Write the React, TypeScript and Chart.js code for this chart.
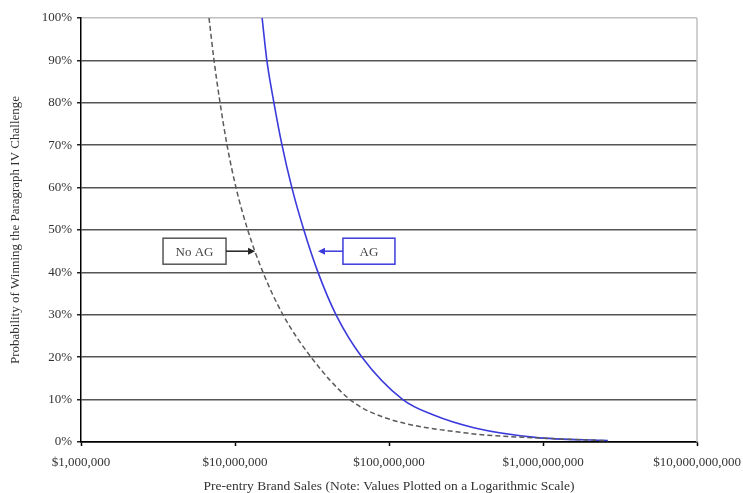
import React, { useEffect, useRef } from 'react';
import { Chart, registerables } from 'chart.js';

Chart.register(...registerables);

// ---- data ----
const xTickValues = [1e6, 1e7, 1e8, 1e9, 1e10];

const agSales = [1.5e7, 1.61e7, 1.79e7, 2.02e7, 2.34e7, 2.8e7, 3.46e7, 4.53e7, 6.68e7, 1.23e8, 1.93e8, 3.61e8, 8.87e8, 2.64e9];
const agProb = [100, 90, 80, 70, 60, 50, 40, 30, 20, 10, 6.4, 3.3, 1.1, 0.35];

const noAgSales = [6.78e6, 7.31e6, 8.0e6, 8.88e6, 1.015e7, 1.21e7, 1.52e7, 2.05e7, 3.12e7, 5.58e7, 9.15e7, 3.21e8, 1.0e9, 2.64e9];
const noAgProb = [100, 90, 80, 70, 60, 50, 40, 30, 20, 10, 5.9, 2.1, 0.9, 0.3];

const annLabels = ['No AG', 'AG'];
const annBoxSales = [5.46e6, 7.41e7];
const annTipSales = [1.35e7, 3.46e7];
const annProb = [45, 45];
const annBoxWidths = [63, 52];
const annColors = ['#222222', '#3b3bdc'];

const FONT = "'Liberation Serif', 'Times New Roman', serif";

const annotationPlugin = {
  id: 'annotationsAndBorder',
  afterDatasetsDraw(chart: any) {
    const { ctx, chartArea, scales } = chart;
    const x = scales.x;
    const y = scales.y;
    ctx.save();
    // right border of plot
    ctx.strokeStyle = '#c0c0c0';
    ctx.lineWidth = 1.5;
    ctx.beginPath();
    ctx.moveTo(chartArea.right, chartArea.top);
    ctx.lineTo(chartArea.right, chartArea.bottom);
    ctx.stroke();

    for (let i = 0; i < annLabels.length; i++) {
      const cx = x.getPixelForValue(annBoxSales[i]);
      const cy = y.getPixelForValue(annProb[i]);
      const tx = x.getPixelForValue(annTipSales[i]);
      const w = annBoxWidths[i];
      const h = 26;
      const left = cx - w / 2;
      const right = cx + w / 2;
      ctx.fillStyle = '#ffffff';
      ctx.fillRect(left, cy - h / 2, w, h);
      ctx.strokeStyle = i === 0 ? '#555555' : annColors[1];
      ctx.lineWidth = 1.5;
      ctx.strokeRect(left, cy - h / 2, w, h);
      ctx.fillStyle = '#444444';
      ctx.font = `13px ${FONT}`;
      ctx.textAlign = 'center';
      ctx.textBaseline = 'middle';
      ctx.fillText(annLabels[i], cx, cy + 1);
      // arrow
      const startX = tx > cx ? right : left;
      const dir = tx > startX ? 1 : -1;
      ctx.strokeStyle = annColors[i];
      ctx.fillStyle = annColors[i];
      ctx.lineWidth = 1.5;
      ctx.beginPath();
      ctx.moveTo(startX, cy);
      ctx.lineTo(tx - dir * 6, cy);
      ctx.stroke();
      ctx.beginPath();
      ctx.moveTo(tx, cy);
      ctx.lineTo(tx - dir * 7, cy - 3.5);
      ctx.lineTo(tx - dir * 7, cy + 3.5);
      ctx.closePath();
      ctx.fill();
    }
    ctx.restore();
  },
};

export default function App() {
  const ref = useRef<HTMLCanvasElement>(null);

  useEffect(() => {
    if (!ref.current) return;
    const chart = new Chart(ref.current, {
      type: 'line',
      data: {
        datasets: [
          {
            label: 'No AG',
            data: noAgSales.map((s, i) => ({ x: s, y: noAgProb[i] })),
            borderColor: '#5a5a5a',
            borderWidth: 1.5,
            borderDash: [5, 3],
            pointRadius: 0,
            cubicInterpolationMode: 'monotone',
            fill: false,
          },
          {
            label: 'AG',
            data: agSales.map((s, i) => ({ x: s, y: agProb[i] })),
            borderColor: '#3b3bdc',
            borderWidth: 1.6,
            pointRadius: 0,
            cubicInterpolationMode: 'monotone',
            fill: false,
          },
        ],
      },
      options: {
        animation: false,
        responsive: false,
        maintainAspectRatio: false,
        layout: { padding: { top: 18, right: 46, left: 0, bottom: 0 } },
        plugins: {
          legend: { display: false },
          tooltip: { enabled: false },
        },
        scales: {
          x: {
            type: 'logarithmic',
            min: 1e6,
            max: 1e10,
            afterBuildTicks: (scale: any) => {
              scale.ticks = xTickValues.map((v) => ({ value: v }));
            },
            afterFit: (scale: any) => {
              scale.height = 51;
              scale.paddingLeft = 0;
              scale.paddingRight = 0;
            },
            grid: {
              drawOnChartArea: false,
              drawTicks: true,
              tickLength: 4,
              tickColor: '#000000',
              tickWidth: 1.5,
            },
            border: { display: true, color: '#000000', width: 1.5 },
            ticks: {
              autoSkip: false,
              maxRotation: 0,
              padding: 9,
              color: '#333333',
              font: { family: FONT, size: 13 },
              callback: (v: any) => '$' + Number(v).toLocaleString('en-US'),
            },
            title: {
              display: true,
              text: 'Pre-entry Brand Sales (Note: Values Plotted on a Logarithmic Scale)',
              color: '#333333',
              font: { family: FONT, size: 13.5, lineHeight: 1 },
              padding: { top: 0, bottom: 0 },
            },
          },
          y: {
            min: 0,
            max: 100,
            afterFit: (scale: any) => {
              scale.width = 81;
              scale.paddingTop = 0;
              scale.paddingBottom = 0;
            },
            grid: {
              color: (c: any) => (c.tick && c.tick.value === 100 ? '#c0c0c0' : c.tick && c.tick.value === 0 ? '#000000' : '#555555'),
              lineWidth: 1.5,
              drawTicks: true,
              tickLength: 4,
              tickColor: '#222222',
            },
            border: { display: true, color: '#000000', width: 1.5 },
            ticks: {
              stepSize: 10,
              padding: 5,
              color: '#333333',
              font: { family: FONT, size: 13 },
              callback: (v: any) => v + '%',
            },
            title: {
              display: true,
              text: 'Probability of Winning the Paragraph IV Challenge',
              color: '#333333',
              font: { family: FONT, size: 13, lineHeight: 1 },
              padding: { top: 9, bottom: 0 },
            },
          },
        },
      },
      plugins: [annotationPlugin],
    } as any);
    return () => chart.destroy();
  }, []);

  return (
    <div style={{ position: 'fixed', left: 0, top: 0, width: 743, height: 493, background: '#ffffff' }}>
      <canvas ref={ref} width={743} height={493} style={{ width: 743, height: 493, display: 'block' }} />
    </div>
  );
}
